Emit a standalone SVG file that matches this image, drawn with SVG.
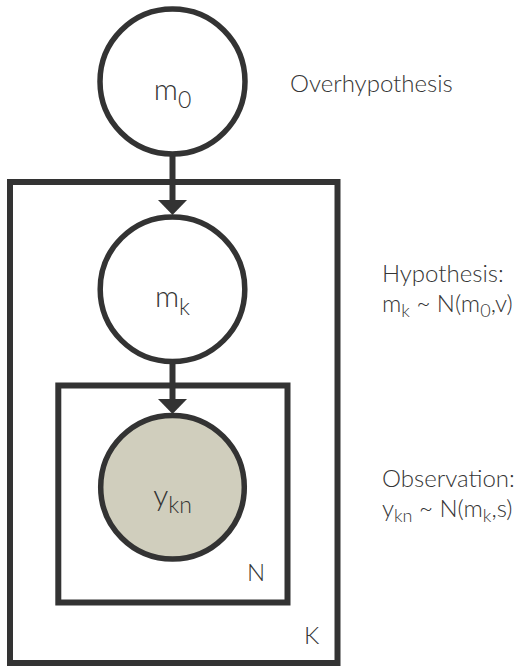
<svg xmlns="http://www.w3.org/2000/svg" width="522" height="666" viewBox="0 0 522 666">
<defs>
<style>
.plate{fill:none;stroke:#333;stroke-width:6}
.node{fill:#fff;stroke:#333;stroke-width:5.5}
.obs{fill:#d0cebd;stroke:#333;stroke-width:5.5}
.edge{stroke:#333;stroke-width:6;fill:none}
.lbl{font-family:Lato,"Liberation Sans",sans-serif;font-weight:300;fill:#333;opacity:0.99}
.in{font-size:30px}
.side{font-size:24px}
</style>
<marker id="ah" markerUnits="userSpaceOnUse" markerWidth="16" markerHeight="30" refX="0" refY="14.5" orient="auto" overflow="visible">
<path d="M0,0 L15,14.5 L0,29 Z" fill="#333"/>
</marker>
</defs>
<rect width="522" height="666" fill="#fff"/>
<g id="plate-K">
<rect class="plate" x="10" y="182" width="327.5" height="481"/>
<text class="lbl side" x="304" y="644">K</text>
</g>
<g id="plate-N">
<rect class="plate" x="58.3" y="385.5" width="229.2" height="217"/>
<text class="lbl side" x="247" y="581">N</text>
</g>
<g id="connectors">
<line class="edge" x1="172.5" y1="156" x2="172.5" y2="200" marker-end="url(#ah)"/>
<line class="edge" x1="172.5" y1="364" x2="172.5" y2="399" marker-end="url(#ah)"/>
</g>
<g id="node-m0">
<circle class="node" cx="172.5" cy="81.5" r="72.5"/>
<text class="lbl in" x="172.5" y="100" text-anchor="middle">m<tspan font-size="23" dy="8">0</tspan></text>
</g>
<g id="node-mk">
<circle class="node" cx="172.5" cy="289.2" r="72.3"/>
<text class="lbl in" x="172.5" y="306.5" text-anchor="middle">m<tspan font-size="23" dy="8">k</tspan></text>
</g>
<g id="node-ykn">
<circle class="obs" cx="172.5" cy="487.2" r="71.8"/>
<text class="lbl in" x="172.5" y="506" text-anchor="middle">y<tspan font-size="23" dy="7">kn</tspan></text>
</g>
<g id="label-overhypothesis">
<text class="lbl side" x="290" y="92">Overhypothesis</text>
</g>
<g id="label-hypothesis">
<text class="lbl side" x="382" y="282">Hypothesis:</text>
<text class="lbl side" x="382" y="312">m<tspan font-size="18" dy="5">k</tspan><tspan dy="-5"> ~ N(m</tspan><tspan font-size="18" dy="5">0</tspan><tspan dy="-5">,v)</tspan></text>
</g>
<g id="label-observation">
<text class="lbl side" x="382" y="487">Observation:</text>
<text class="lbl side" x="382" y="517">y<tspan font-size="18" dy="5">kn</tspan><tspan dy="-5"> ~ N(m</tspan><tspan font-size="18" dy="5">k</tspan><tspan dy="-5">,s)</tspan></text>
</g>
</svg>
